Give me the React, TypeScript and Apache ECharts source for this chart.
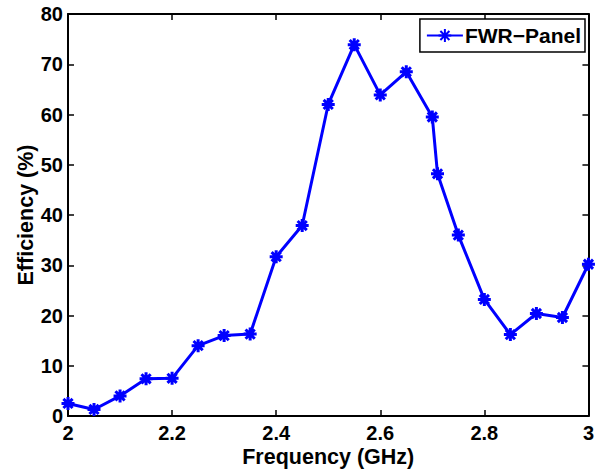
import React, { useEffect, useRef } from "react";
import * as echarts from "echarts";

const frequencies = [2.0, 2.05, 2.1, 2.15, 2.2, 2.25, 2.3, 2.35, 2.4, 2.45, 2.5, 2.55, 2.6, 2.65, 2.7, 2.71, 2.75, 2.8, 2.85, 2.9, 2.95, 3.0];
const efficiency = [2.5, 1.3, 4.0, 7.4, 7.5, 14.0, 16.0, 16.3, 31.7, 37.9, 62.0, 73.9, 63.9, 68.5, 59.5, 48.2, 36.0, 23.2, 16.2, 20.4, 19.6, 30.2];
const seriesName = "FWR−Panel";
const xAxisTitle = "Frequency (GHz)";
const yAxisTitle = "Efficiency (%)";

const FONT = "'Liberation Sans', Arial, sans-serif";
const ASTERISK =
  "path://M0,-6 L0,6 M-6,0 L6,0 M-4.24,-4.24 L4.24,4.24 M-4.24,4.24 L4.24,-4.24";

export default function App() {
  const ref = useRef<HTMLDivElement>(null);
  useEffect(() => {
    if (!ref.current) return;
    const chart = echarts.init(ref.current, null, { renderer: "svg" });
    const data = frequencies.map((f, i) => [f, efficiency[i]]);
    const axisLine = { show: true, onZero: false, lineStyle: { color: "#000", width: 2 } };
    const tickStyle = { color: "#000", fontFamily: FONT, fontWeight: "bold" as const, fontSize: 20 };
    const nameStyle = { color: "#000", fontFamily: FONT, fontWeight: "bold" as const, fontSize: 21.5 };
    const axisTick = { show: true, inside: true, length: 6, lineStyle: { color: "#000", width: 1.5 } };
    chart.setOption({
      animation: false,
      backgroundColor: "#fff",
      grid: { left: 68, right: 7, top: 14, bottom: 57, containLabel: false },
      legend: {
        right: 12,
        top: 19,
        orient: "horizontal",
        backgroundColor: "#fff",
        borderColor: "#000",
        borderWidth: 1.5,
        borderRadius: 0,
        padding: [6, 4, 6, 6],
        itemWidth: 36,
        itemHeight: 16,
        itemGap: 2,
        textStyle: { ...nameStyle, fontSize: 21, padding: [0, 0, 0, -3] },
        data: [seriesName],
      },
      xAxis: [
        {
          type: "value",
          min: 2,
          max: 3,
          interval: 0.2,
          name: xAxisTitle,
          nameLocation: "middle",
          nameGap: 32,
          nameMoveOverlap: false,
          nameTextStyle: { ...nameStyle, lineHeight: 18 },
          axisLine,
          axisTick,
          axisLabel: {
            ...tickStyle,
            lineHeight: 18,
            margin: 8,
            formatter: (v: number) => String(Number(v.toFixed(1))),
          },
          splitLine: { show: false },
        },
        {
          type: "value",
          position: "top",
          min: 2,
          max: 3,
          interval: 0.2,
          axisLine,
          axisTick,
          axisLabel: { show: false },
          splitLine: { show: false },
        },
      ],
      yAxis: [
        {
          type: "value",
          min: 0,
          max: 80,
          interval: 10,
          name: yAxisTitle,
          nameLocation: "middle",
          nameGap: 31,
          nameMoveOverlap: false,
          nameTextStyle: nameStyle,
          axisLine,
          axisTick,
          axisLabel: { ...tickStyle, margin: 5 },
          splitLine: { show: false },
        },
        {
          type: "value",
          position: "right",
          min: 0,
          max: 80,
          interval: 10,
          axisLine,
          axisTick,
          axisLabel: { show: false },
          splitLine: { show: false },
        },
      ],
      series: [
        {
          name: seriesName,
          type: "line",
          data,
          xAxisIndex: 0,
          yAxisIndex: 0,
          symbol: ASTERISK,
          symbolSize: 13,
          showAllSymbol: true,
          lineStyle: { color: "#0000ff", width: 3 },
          itemStyle: { color: "#0000ff", borderColor: "#0000ff", borderWidth: 3 },
          emphasis: { disabled: true },
          clip: false,
        },
      ],
    });
    return () => chart.dispose();
  }, []);
  return (
    <div
      ref={ref}
      style={{ position: "fixed", left: 0, top: 0, width: 597, height: 473, background: "#fff" }}
    />
  );
}
